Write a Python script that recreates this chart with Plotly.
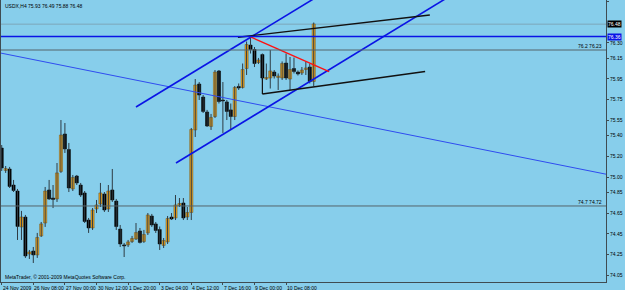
import plotly.graph_objects as go

# ---------------- data (USDX, H4) ----------------
bar_index = list(range(80))
opens = [75.281, 75.064, 75.078, 74.923, 74.865, 74.517, 74.613, 74.255, 74.284, 74.246,
         74.430, 74.555, 74.875, 74.797, 74.788, 75.054, 75.417, 75.267, 74.885, 75.010,
         74.923, 74.846, 74.584, 74.507, 74.691, 74.739, 74.836, 74.691, 74.875, 74.768,
         74.497, 74.343, 74.343, 74.376, 74.400, 74.478, 74.376, 74.459, 74.623, 74.546,
         74.492, 74.338, 74.372, 74.613, 74.604, 74.725, 74.749, 74.613, 74.657, 75.456,
         75.901, 75.775, 75.630, 75.490, 75.586, 76.027, 75.746, 75.727, 75.650, 75.586,
         75.877, 75.867, 76.051, 76.278, 76.235, 76.109, 76.186, 75.949, 75.959, 76.017,
         75.964, 75.959, 76.104, 75.949, 76.051, 76.017, 76.007, 76.041, 76.065, 75.925]
highs = [75.310, 75.107, 75.098, 74.972, 74.885, 74.672, 74.633, 74.294, 74.323, 74.459,
         74.565, 74.904, 74.972, 74.923, 75.136, 75.552, 75.523, 75.330, 75.020, 75.020,
         74.943, 74.865, 74.604, 74.700, 74.778, 74.943, 74.855, 74.923, 75.078, 74.788,
         74.536, 74.362, 74.391, 74.430, 74.555, 74.507, 74.488, 74.652, 74.643, 74.565,
         74.521, 74.410, 74.623, 74.652, 74.826, 74.797, 74.797, 74.710, 75.475, 75.949,
         75.920, 75.794, 75.650, 75.611, 76.036, 76.036, 75.920, 75.746, 75.712, 75.881,
         75.906, 76.099, 76.312, 76.346, 76.259, 76.153, 76.196, 76.099, 76.230, 76.036,
         76.003, 76.119, 76.196, 76.162, 76.157, 76.032, 76.065, 76.119, 76.099, 76.496]
lows = [75.059, 75.040, 74.894, 74.855, 74.391, 74.391, 74.217, 74.207, 74.168, 74.217,
        74.420, 74.517, 74.778, 74.700, 74.759, 75.040, 75.233, 74.855, 74.865, 74.923,
        74.807, 74.555, 74.459, 74.488, 74.652, 74.710, 74.662, 74.662, 74.759, 74.488,
        74.323, 74.226, 74.323, 74.362, 74.391, 74.357, 74.362, 74.439, 74.517, 74.459,
        74.294, 74.313, 74.352, 74.584, 74.584, 74.710, 74.584, 74.584, 74.584, 75.388,
        75.746, 75.620, 75.485, 75.456, 75.572, 75.712, 75.427, 75.552, 75.456, 75.552,
        75.843, 75.857, 75.988, 76.196, 76.065, 76.094, 75.940, 75.940, 75.857, 75.954,
        75.843, 75.940, 75.940, 75.843, 76.003, 75.983, 75.988, 75.988, 75.906, 75.880]
closes = [75.088, 75.083, 74.909, 74.870, 74.522, 74.613, 74.236, 74.275, 74.246, 74.415,
          74.546, 74.865, 74.788, 74.783, 75.040, 75.407, 75.272, 74.894, 74.996, 74.943,
          74.826, 74.570, 74.507, 74.681, 74.730, 74.846, 74.681, 74.865, 74.778, 74.521,
          74.352, 74.333, 74.372, 74.405, 74.463, 74.367, 74.444, 74.633, 74.536, 74.483,
          74.352, 74.386, 74.599, 74.594, 74.730, 74.744, 74.604, 74.657, 75.460, 75.891,
          75.794, 75.635, 75.494, 75.577, 76.017, 75.731, 75.736, 75.635, 75.586, 75.867,
          75.862, 76.041, 76.283, 76.235, 76.099, 76.133, 75.959, 75.964, 76.027, 75.978,
          75.978, 76.099, 75.959, 76.041, 76.022, 75.998, 76.036, 76.056, 75.925, 76.482]

time_tick_index = [0, 8, 16, 24, 32, 40, 48, 56, 64, 72]
time_tick_labels = ["24 Nov 2009", "26 Nov 08:00", "27 Nov 00:00", "30 Nov 12:00", "1 Dec 20:00",
                    "3 Dec 04:00", "4 Dec 12:00", "7 Dec 16:00", "9 Dec 00:00", "10 Dec 08:00"]
price_ticks = [76.70, 76.30, 76.15, 75.95, 75.75, 75.55, 75.40, 75.20, 75.00, 74.85,
               74.65, 74.45, 74.25, 74.05]

# drawn objects (bar index, price)
channel_upper = ([34.0, 80.0], [75.678, 76.749])
channel_lower = ([44.13, 113.0], [75.136, 76.741])
long_trend = ([-1.0, 154.0], [76.206, 75.020])
black_upper = ([59.8, 108.4], [76.353, 76.569])
black_lower = ([66.0, 107.2], [75.804, 76.022])
black_vertical = ([66.0, 66.0], [75.959, 75.804])
red_line = ([62.86, 82.9], [76.359, 76.020])
hline_blue = 76.36
hline_gray = [(76.23, "76.2 76.23"), (74.72, "74.7 74.72")]
bid_price = 76.48
title_text = "USDX,H4 75.93 76.49 75.88 76.48"
copyright_text = "MetaTrader, © 2001-2009 MetaQuotes Software Corp."

# ---------------- figure ----------------
BG = "#87CEEB"
FONT = "Liberation Sans"
UP = "#F0A41C"
WICK = "#2e3c44"
fig = go.Figure()

# wicks
wx, wy = [], []
for i, h, l in zip(bar_index, highs, lows):
    wx += [i, i, None]
    wy += [h, l, None]
fig.add_trace(go.Scatter(x=wx, y=wy, mode="lines", line=dict(color=WICK, width=1),
                         showlegend=False, hoverinfo="skip"))

# bodies
ux, ub, uh, dx, db, dh = [], [], [], [], [], []
for i, o, c in zip(bar_index, opens, closes):
    if c >= o:
        ux.append(i); ub.append(o); uh.append(c - o)
    else:
        dx.append(i); db.append(c); dh.append(o - c)
fig.add_trace(go.Bar(x=ux, y=uh, base=ub, width=0.8,
                     marker=dict(color=UP, line=dict(color="#6b5220", width=0.5)),
                     showlegend=False, hoverinfo="skip"))
fig.add_trace(go.Bar(x=dx, y=dh, base=db, width=0.8,
                     marker=dict(color="#000000", line=dict(color="#000000", width=0.5)),
                     showlegend=False, hoverinfo="skip"))

def seg(xy, color, width):
    fig.add_trace(go.Scatter(x=xy[0], y=xy[1], mode="lines",
                             line=dict(color=color, width=width),
                             showlegend=False, hoverinfo="skip"))

seg(long_trend, "#2f4cf0", 1)
seg(channel_upper, "#0a14e6", 1.6)
seg(channel_lower, "#0a14e6", 1.6)
seg(black_upper, "#111111", 1.4)
seg(black_lower, "#111111", 1.4)
seg(black_vertical, "#111111", 1.2)
seg(red_line, "#ff1010", 1.4)

shapes = [
    dict(type="line", xref="paper", x0=0, x1=1, yref="y", y0=bid_price, y1=bid_price,
         line=dict(color="rgba(110,120,125,0.45)", width=1), layer="below"),
    dict(type="line", xref="paper", x0=0, x1=1, yref="y", y0=hline_blue, y1=hline_blue,
         line=dict(color="#0a14e6", width=1.4)),
]
annotations = []
for price, label in hline_gray:
    shapes.append(dict(type="line", xref="paper", x0=0, x1=1, yref="y", y0=price, y1=price,
                       line=dict(color="#55646b", width=1)))
    annotations.append(dict(xref="paper", x=1, y=price, yref="y", text=label, showarrow=False,
                            xanchor="right", yanchor="bottom", xshift=-2, yshift=-1,
                            font=dict(family=FONT, size=5, color="#000")))

for i, lab in zip(time_tick_index, time_tick_labels):
    annotations.append(dict(xref="x", x=i, yref="paper", y=0, text=lab, showarrow=False,
                            xanchor="left", yanchor="top", xshift=-1, yshift=-1,
                            font=dict(family=FONT, size=5, color="#000")))

annotations += [
    dict(xref="paper", yref="paper", x=0, y=1, text=title_text, showarrow=False,
         xanchor="left", yanchor="top", xshift=2, yshift=-1,
         font=dict(family=FONT, size=5, color="#000")),
    dict(xref="paper", yref="paper", x=0, y=0, text=copyright_text, showarrow=False,
         xanchor="left", yanchor="bottom", xshift=2, yshift=0,
         font=dict(family=FONT, size=5, color="#000")),
    dict(xref="paper", x=1, y=bid_price, yref="y", text=f"{bid_price:.2f}", showarrow=False,
         xanchor="left", yanchor="middle", xshift=1, bgcolor="#000000", borderpad=0,
         font=dict(family=FONT, size=5, color="#ffffff")),
    dict(xref="paper", x=1, y=hline_blue, yref="y", text=f"{hline_blue:.2f}", showarrow=False,
         xanchor="left", yanchor="middle", xshift=1, bgcolor="#0a14e6", borderpad=0,
         font=dict(family=FONT, size=5, color="#ffffff")),
]

fig.update_layout(
    width=625, height=290,
    margin=dict(l=1, r=19, t=0, b=8),
    paper_bgcolor=BG, plot_bgcolor=BG,
    barmode="overlay",
    shapes=shapes, annotations=annotations,
    font=dict(family=FONT, size=5, color="#000"),
    xaxis=dict(range=[-0.18, 153.0], showgrid=False,
               zeroline=False, showline=True, linecolor="#3f4c52", linewidth=1, mirror=True,
               tickmode="array", tickvals=time_tick_index, showticklabels=False,
               ticks="outside", ticklen=2, tickcolor="#3f4c52", automargin=False),
    yaxis=dict(range=[73.984, 76.714], side="right", showgrid=False, zeroline=False,
               showline=True, linecolor="#3f4c52", linewidth=1, mirror=True,
               tickmode="array", tickvals=price_ticks,
               ticktext=[f"{v:.2f}" for v in price_ticks],
               ticks="outside", ticklen=2, tickcolor="#3f4c52", automargin=False,
               tickfont=dict(family=FONT, size=5, color="#000")),
)

fig.write_html("out.html")
